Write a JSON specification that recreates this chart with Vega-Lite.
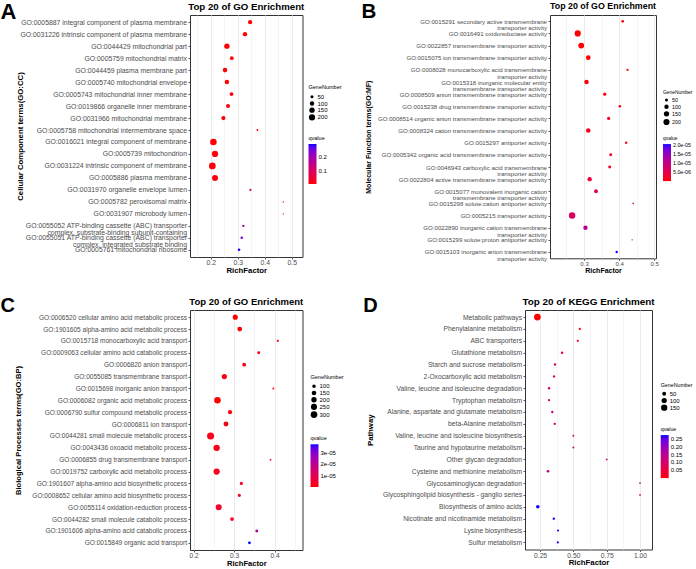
{
  "$schema": "https://vega.github.io/schema/vega-lite/v6.json",
  "padding": {"left": 0, "top": 0, "right": 0, "bottom": 0},
  "background": "white",
  "datasets": {
    "cc": [
      {"term": "GO:0005887 integral component of plasma membrane", "rich": 0.346, "genes": 95, "q": 0.008},
      {"term": "GO:0031226 intrinsic component of plasma membrane", "rich": 0.327, "genes": 100, "q": 0.008},
      {"term": "GO:0044429 mitochondrial part", "rich": 0.26, "genes": 150, "q": 0.008},
      {"term": "GO:0005759 mitochondrial matrix", "rich": 0.278, "genes": 75, "q": 0.009},
      {"term": "GO:0044459 plasma membrane part", "rich": 0.253, "genes": 110, "q": 0.009},
      {"term": "GO:0005740 mitochondrial envelope", "rich": 0.26, "genes": 105, "q": 0.009},
      {"term": "GO:0005743 mitochondrial inner membrane", "rich": 0.277, "genes": 80, "q": 0.01},
      {"term": "GO:0019866 organelle inner membrane", "rich": 0.264, "genes": 85, "q": 0.01},
      {"term": "GO:0031966 mitochondrial membrane", "rich": 0.247, "genes": 95, "q": 0.01},
      {"term": "GO:0005758 mitochondrial intermembrane space", "rich": 0.373, "genes": 20, "q": 0.02},
      {"term": "GO:0016021 integral component of membrane", "rich": 0.21, "genes": 230, "q": 0.01},
      {"term": "GO:0005739 mitochondrion", "rich": 0.216, "genes": 210, "q": 0.01},
      {"term": "GO:0031224 intrinsic component of membrane", "rich": 0.206, "genes": 240, "q": 0.012},
      {"term": "GO:0005886 plasma membrane", "rich": 0.216, "genes": 190, "q": 0.012},
      {"term": "GO:0031970 organelle envelope lumen", "rich": 0.347, "genes": 25, "q": 0.05},
      {"term": "GO:0005782 peroxisomal matrix", "rich": 0.469, "genes": 10, "q": 0.11},
      {"term": "GO:0031907 microbody lumen", "rich": 0.469, "genes": 10, "q": 0.11},
      {"term": "GO:0055052 ATP-binding cassette (ABC) transporter|complex, substrate-binding subunit-containing", "rich": 0.321, "genes": 30, "q": 0.2},
      {"term": "GO:0055051 ATP-binding cassette (ABC) transporter|complex, integrated substrate binding", "rich": 0.315, "genes": 35, "q": 0.23},
      {"term": "GO:0005761 mitochondrial ribosome", "rich": 0.305, "genes": 35, "q": 0.29}
    ],
    "mf": [
      {"term": "GO:0015291 secondary active transmembrane|transporter activity", "rich": 0.41, "genes": 40, "q": 2e-7},
      {"term": "GO:0016491 oxidoreductase activity", "rich": 0.282, "genes": 200, "q": 3e-7},
      {"term": "GO:0022857 transmembrane transporter activity", "rich": 0.292, "genes": 175, "q": 3e-7},
      {"term": "GO:0015075 ion transmembrane transporter activity", "rich": 0.312, "genes": 120, "q": 4e-7},
      {"term": "GO:0008028 monocarboxylic acid transmembrane|transporter activity", "rich": 0.424, "genes": 25, "q": 6e-7},
      {"term": "GO:0015318 inorganic molecular entity|transmembrane transporter activity", "rich": 0.307, "genes": 110, "q": 6e-7},
      {"term": "GO:0008509 anion transmembrane transporter activity", "rich": 0.359, "genes": 60, "q": 8e-7},
      {"term": "GO:0015238 drug transmembrane transporter activity", "rich": 0.402, "genes": 35, "q": 1e-6},
      {"term": "GO:0008514 organic anion transmembrane transporter activity", "rich": 0.37, "genes": 55, "q": 1.2e-6},
      {"term": "GO:0008324 cation transmembrane transporter activity", "rich": 0.312, "genes": 110, "q": 1.5e-6},
      {"term": "GO:0015297 antiporter activity", "rich": 0.42, "genes": 32, "q": 2e-6},
      {"term": "GO:0005342 organic acid transmembrane transporter activity", "rich": 0.376, "genes": 48, "q": 2.2e-6},
      {"term": "GO:0046943 carboxylic acid transmembrane|transporter activity", "rich": 0.373, "genes": 48, "q": 2.5e-6},
      {"term": "GO:0022804 active transmembrane transporter activity", "rich": 0.316, "genes": 100, "q": 3.5e-6},
      {"term": "GO:0015077 monovalent inorganic cation|transmembrane transporter activity", "rich": 0.334, "genes": 80, "q": 6e-6},
      {"term": "GO:0015298 solute:cation antiporter activity", "rich": 0.44, "genes": 15, "q": 7e-6},
      {"term": "GO:0005215 transporter activity", "rich": 0.266, "genes": 220, "q": 6.5e-6},
      {"term": "GO:0022890 inorganic cation transmembrane|transporter activity", "rich": 0.304, "genes": 100, "q": 1.2e-5},
      {"term": "GO:0015299 solute:proton antiporter activity", "rich": 0.437, "genes": 12, "q": 1.7e-5},
      {"term": "GO:0015103 inorganic anion transmembrane|transporter activity", "rich": 0.393, "genes": 30, "q": 2.03e-5}
    ],
    "bp": [
      {"term": "GO:0006520 cellular amino acid metabolic process", "rich": 0.303, "genes": 180, "q": 1e-7},
      {"term": "GO:1901605 alpha-amino acid metabolic process", "rich": 0.314, "genes": 160, "q": 1e-7},
      {"term": "GO:0015718 monocarboxylic acid transport", "rich": 0.408, "genes": 50, "q": 1e-6},
      {"term": "GO:0009063 cellular amino acid catabolic process", "rich": 0.361, "genes": 75, "q": 1e-6},
      {"term": "GO:0006820 anion transport", "rich": 0.325, "genes": 110, "q": 1e-6},
      {"term": "GO:0055085 transmembrane transport", "rich": 0.276, "genes": 190, "q": 1.5e-6},
      {"term": "GO:0015698 inorganic anion transport", "rich": 0.397, "genes": 45, "q": 1.5e-6},
      {"term": "GO:0006082 organic acid metabolic process", "rich": 0.259, "genes": 290, "q": 1e-7},
      {"term": "GO:0006790 sulfur compound metabolic process", "rich": 0.29, "genes": 130, "q": 1.5e-6},
      {"term": "GO:0006811 ion transport", "rich": 0.28, "genes": 170, "q": 2e-6},
      {"term": "GO:0044281 small molecule metabolic process", "rich": 0.242, "genes": 330, "q": 2e-6},
      {"term": "GO:0043436 oxoacid metabolic process", "rich": 0.257, "genes": 270, "q": 2e-6},
      {"term": "GO:0006855 drug transmembrane transport", "rich": 0.39, "genes": 40, "q": 3e-6},
      {"term": "GO:0019752 carboxylic acid metabolic process", "rich": 0.257, "genes": 260, "q": 2e-6},
      {"term": "GO:1901607 alpha-amino acid biosynthetic process", "rich": 0.318, "genes": 85, "q": 2.5e-6},
      {"term": "GO:0008652 cellular amino acid biosynthetic process", "rich": 0.313, "genes": 85, "q": 3e-6},
      {"term": "GO:0055114 oxidation-reduction process", "rich": 0.262, "genes": 250, "q": 4e-6},
      {"term": "GO:0044282 small molecule catabolic process", "rich": 0.295, "genes": 110, "q": 4e-6},
      {"term": "GO:1901606 alpha-amino acid catabolic process", "rich": 0.356, "genes": 70, "q": 2.2e-5},
      {"term": "GO:0015849 organic acid transport", "rich": 0.338, "genes": 70, "q": 3.75e-5}
    ],
    "kegg": [
      {"term": "Metabolic pathways", "rich": 0.23, "genes": 170, "q": 0.001},
      {"term": "Phenylalanine metabolism", "rich": 0.548, "genes": 11, "q": 0.02},
      {"term": "ABC transporters", "rich": 0.533, "genes": 10, "q": 0.025},
      {"term": "Glutathione metabolism", "rich": 0.415, "genes": 15, "q": 0.05},
      {"term": "Starch and sucrose metabolism", "rich": 0.3625, "genes": 13, "q": 0.1},
      {"term": "2-Oxocarboxylic acid metabolism", "rich": 0.355, "genes": 12, "q": 0.1},
      {"term": "Valine, leucine and isoleucine degradation", "rich": 0.3175, "genes": 12, "q": 0.11},
      {"term": "Tryptophan metabolism", "rich": 0.3175, "genes": 12, "q": 0.11},
      {"term": "Alanine, aspartate and glutamate metabolism", "rich": 0.342, "genes": 12, "q": 0.115},
      {"term": "beta-Alanine metabolism", "rich": 0.36, "genes": 12, "q": 0.115},
      {"term": "Valine, leucine and isoleucine biosynthesis", "rich": 0.5, "genes": 5, "q": 0.12},
      {"term": "Taurine and hypotaurine metabolism", "rich": 0.5, "genes": 5, "q": 0.12},
      {"term": "Other glycan degradation", "rich": 0.75, "genes": 3, "q": 0.13},
      {"term": "Cysteine and methionine metabolism", "rich": 0.31, "genes": 20, "q": 0.14},
      {"term": "Glycosaminoglycan degradation", "rich": 1.0, "genes": 2, "q": 0.14},
      {"term": "Glycosphingolipid biosynthesis - ganglio series", "rich": 1.0, "genes": 2, "q": 0.14},
      {"term": "Biosynthesis of amino acids", "rich": 0.233, "genes": 40, "q": 0.272},
      {"term": "Nicotinate and nicotinamide metabolism", "rich": 0.353, "genes": 12, "q": 0.272},
      {"term": "Lysine biosynthesis", "rich": 0.385, "genes": 8, "q": 0.272},
      {"term": "Sulfur metabolism", "rich": 0.383, "genes": 8, "q": 0.272}
    ]
  },
  "spacing": 21,
  "align": "none",
  "resolve": {"scale": {"color": "independent", "size": "independent"}, "legend": {"color": "independent", "size": "independent"}},
  "vconcat": [
    {
      "spacing": 18,
      "align": "none",
      "resolve": {"scale": {"color": "independent", "size": "independent"}, "legend": {"color": "independent", "size": "independent"}},
      "hconcat": [
        {
          "title": {"text": "A", "anchor": "start", "frame": "bounds", "fontSize": 22, "fontWeight": "bold", "offset": -22, "dx": -15, "color": "black"},
          "resolve": {"scale": {"color": "independent", "size": "independent"}, "legend": {"color": "independent", "size": "independent"}},
          "vconcat": [
            {
              "data": {"name": "cc"},
              "width": 112.5, "height": 242,
              "title": {"text": "Top 20 of GO Enrichment", "fontSize": 9.7, "fontWeight": "bold", "anchor": "middle", "offset": 3.3, "color": "black"},
              "mark": {"type": "circle", "opacity": 1},
              "encoding": {
                "x": {"field": "rich", "type": "quantitative", "title": "RichFactor",
                  "scale": {"domain": [0.1233, 0.54], "nice": false, "zero": false},
                  "axis": {"values": [0.15, 0.2, 0.25, 0.3, 0.35, 0.4, 0.45, 0.5], "labelFontSize": 6.87, "titleFontSize": 7.8,
                    "labelExpr": "abs(datum.value*10-round(datum.value*10))>0.01 ? '' : format(datum.value,'.1f')",
                    "tickOpacity": {"condition": {"test": "abs(datum.value*10-round(datum.value*10))>0.01", "value": 0}, "value": 1},
                    "gridWidth": {"condition": {"test": "abs(datum.value*10-round(datum.value*10))>0.01", "value": 0.5}, "value": 1}}},
                "y": {"field": "term", "type": "nominal", "sort": null, "title": "Cellular Component terms(GO:CC)",
                  "scale": {"type": "point", "padding": 0.6},
                  "axis": {"labelExpr": "split(datum.label, '|')", "labelFontSize": 6.87, "titleFontSize": 7.8, "labelLineHeight": 6.9, "minExtent": 164, "maxExtent": 164, "titlePadding": 2}},
                "size": {"field": "genes", "type": "quantitative", "title": "GeneNumber",
                  "scale": {"zero": false, "domain": [10, 240], "range": [2, 45]},
                  "legend": {"values": [50, 100, 150, 200], "orient": "none", "legendX": 118.5, "legendY": 70.3, "titleFontSize": 5.5, "labelFontSize": 6}},
                "color": {"field": "q", "type": "quantitative", "title": "qvalue",
                  "scale": {"domain": [0.007, 0.293], "range": ["#FF0000", "#0000FF"], "interpolate": "lab"},
                  "legend": {"values": [0.1, 0.2], "orient": "none", "legendX": 118.5, "legendY": 120.5, "gradientLength": 40, "titleFontSize": 5.5, "labelFontSize": 6, "labelExpr": "format(datum.value, '.1f')"}}
              }
            }
          ]
        },
        {
          "title": {"text": "B", "anchor": "start", "frame": "bounds", "fontSize": 20.5, "fontWeight": "bold", "offset": -20.5, "dx": -2, "color": "black"},
          "resolve": {"scale": {"color": "independent", "size": "independent"}, "legend": {"color": "independent", "size": "independent"}},
          "vconcat": [
            {
              "data": {"name": "mf"},
              "width": 106, "height": 243.3,
              "title": {"text": "Top 20 of GO Enrichment", "fontSize": 8.85, "fontWeight": "bold", "anchor": "middle", "offset": 4.15, "color": "black"},
              "mark": {"type": "circle", "opacity": 1},
              "encoding": {
                "x": {"field": "rich", "type": "quantitative", "title": "RichFactor",
                  "scale": {"domain": [0.203, 0.505], "nice": false, "zero": false},
                  "axis": {"values": [0.25, 0.3, 0.35, 0.4, 0.45, 0.5], "labelFontSize": 6.1, "titleFontSize": 7,
                    "labelExpr": "abs(datum.value*10-round(datum.value*10))>0.01 ? '' : format(datum.value,'.1f')",
                    "tickOpacity": {"condition": {"test": "abs(datum.value*10-round(datum.value*10))>0.01", "value": 0}, "value": 1},
                    "gridWidth": {"condition": {"test": "abs(datum.value*10-round(datum.value*10))>0.01", "value": 0.5}, "value": 1}}},
                "y": {"field": "term", "type": "nominal", "sort": null, "title": "Molecular Function terms(GO:MF)",
                  "scale": {"type": "point", "padding": 0.52},
                  "axis": {"labelExpr": "split(datum.label, '|')", "labelFontSize": 6.1, "titleFontSize": 7, "labelLineHeight": 6.3, "minExtent": 177, "maxExtent": 177, "titlePadding": 2}},
                "size": {"field": "genes", "type": "quantitative", "title": "GeneNumber",
                  "scale": {"zero": false, "domain": [12, 220], "range": [2, 42]},
                  "legend": {"values": [50, 100, 150, 200], "orient": "none", "legendX": 113, "legendY": 74.5, "titleFontSize": 4.9, "labelFontSize": 5.3}},
                "color": {"field": "q", "type": "quantitative", "title": "qvalue",
                  "scale": {"domain": [2e-7, 2.04e-5], "range": ["#FF0000", "#0000FF"], "interpolate": "lab"},
                  "legend": {"values": [5e-6, 1e-5, 1.5e-5, 2e-5], "orient": "none", "legendX": 113, "legendY": 121.2, "gradientLength": 37, "titleFontSize": 4.9, "labelFontSize": 5.3, "labelExpr": "replace(format(datum.value, '.1e'), 'e-', 'e-0')"}}
              }
            }
          ]
        }
      ]
    },
    {
      "spacing": 18,
      "align": "none",
      "resolve": {"scale": {"color": "independent", "size": "independent"}, "legend": {"color": "independent", "size": "independent"}},
      "hconcat": [
        {
          "title": {"text": "C", "anchor": "start", "frame": "bounds", "fontSize": 20, "fontWeight": "bold", "offset": -20, "dx": -13, "color": "black"},
          "resolve": {"scale": {"color": "independent", "size": "independent"}, "legend": {"color": "independent", "size": "independent"}},
          "vconcat": [
            {
              "data": {"name": "bp"},
              "width": 112.5, "height": 240,
              "title": {"text": "Top 20 of GO Enrichment", "fontSize": 9.5, "fontWeight": "bold", "anchor": "middle", "offset": 4, "color": "black"},
              "mark": {"type": "circle", "opacity": 1},
              "encoding": {
                "x": {"field": "rich", "type": "quantitative", "title": "RichFactor",
                  "scale": {"domain": [0.1912, 0.469], "nice": false, "zero": false},
                  "axis": {"values": [0.2, 0.25, 0.3, 0.35, 0.4, 0.45], "labelFontSize": 6.55, "titleFontSize": 7.6,
                    "labelExpr": "abs(datum.value*10-round(datum.value*10))>0.01 ? '' : format(datum.value,'.1f')",
                    "tickOpacity": {"condition": {"test": "abs(datum.value*10-round(datum.value*10))>0.01", "value": 0}, "value": 1},
                    "gridWidth": {"condition": {"test": "abs(datum.value*10-round(datum.value*10))>0.01", "value": 0.5}, "value": 1}}},
                "y": {"field": "term", "type": "nominal", "sort": null, "title": "Biological Processes terms(GO:BP)",
                  "scale": {"type": "point", "padding": 0.6},
                  "axis": {"labelExpr": "split(datum.label, '|')", "labelFontSize": 6.55, "titleFontSize": 7.6, "minExtent": 165.9, "maxExtent": 165.9, "titlePadding": 2}},
                "size": {"field": "genes", "type": "quantitative", "title": "GeneNumber",
                  "scale": {"zero": false, "domain": [40, 330], "range": [3, 50]},
                  "legend": {"values": [100, 150, 200, 250, 300], "orient": "none", "legendX": 120.5, "legendY": 64.8, "titleFontSize": 5.5, "labelFontSize": 6}},
                "color": {"field": "q", "type": "quantitative", "title": "qvalue",
                  "scale": {"domain": [1e-7, 3.75e-5], "range": ["#FF0000", "#0000FF"], "interpolate": "lab"},
                  "legend": {"values": [1e-5, 2e-5, 3e-5], "orient": "none", "legendX": 120.5, "legendY": 125.8, "gradientLength": 42.7, "titleFontSize": 5.5, "labelFontSize": 6, "labelExpr": "replace(format(datum.value, '.0e'), 'e-', 'e-0')"}}
              }
            }
          ]
        },
        {
          "title": {"text": "D", "anchor": "start", "frame": "bounds", "fontSize": 20, "fontWeight": "bold", "offset": -20, "dx": -2.5, "color": "black"},
          "resolve": {"scale": {"color": "independent", "size": "independent"}, "legend": {"color": "independent", "size": "independent"}},
          "vconcat": [
            {
              "data": {"name": "kegg"},
              "width": 127, "height": 239.5,
              "title": {"text": "Top 20 of KEGG Enrichment", "fontSize": 9.9, "fontWeight": "bold", "anchor": "middle", "offset": 3.6, "color": "black"},
              "mark": {"type": "circle", "opacity": 1},
              "encoding": {
                "x": {"field": "rich", "type": "quantitative", "title": "RichFactor",
                  "scale": {"domain": [0.137, 1.09], "nice": false, "zero": false},
                  "axis": {"values": [0.25, 0.375, 0.5, 0.625, 0.75, 0.875, 1.0], "labelFontSize": 6.73, "titleFontSize": 7.8,
                    "labelExpr": "abs(datum.value*4-round(datum.value*4))>0.01 ? '' : format(datum.value,'.2f')",
                    "tickOpacity": {"condition": {"test": "abs(datum.value*4-round(datum.value*4))>0.01", "value": 0}, "value": 1},
                    "gridWidth": {"condition": {"test": "abs(datum.value*4-round(datum.value*4))>0.01", "value": 0.5}, "value": 1}}},
                "y": {"field": "term", "type": "nominal", "sort": null, "title": "Pathway",
                  "scale": {"type": "point", "padding": 0.6},
                  "axis": {"labelExpr": "split(datum.label, '|')", "labelFontSize": 6.73, "titleFontSize": 7.8, "minExtent": 148.7, "maxExtent": 148.7, "titlePadding": 2}},
                "size": {"field": "genes", "type": "quantitative", "title": "GeneNumber",
                  "scale": {"zero": false, "domain": [2, 170], "range": [3, 45]},
                  "legend": {"values": [50, 100, 150], "orient": "none", "legendX": 135.7, "legendY": 72.5, "titleFontSize": 5.3, "labelFontSize": 6}},
                "color": {"field": "q", "type": "quantitative", "title": "qvalue",
                  "scale": {"domain": [0.001, 0.273], "range": ["#FF0000", "#0000FF"], "interpolate": "lab"},
                  "legend": {"values": [0.05, 0.1, 0.15, 0.2, 0.25], "orient": "none", "legendX": 135.7, "legendY": 116.8, "gradientLength": 43, "titleFontSize": 5.3, "labelFontSize": 6, "labelExpr": "format(datum.value, '.2f')"}}
              }
            }
          ]
        }
      ]
    }
  ],
  "config": {
    "font": "Liberation Sans",
    "view": {"stroke": "#333333", "strokeWidth": 1},
    "axis": {"labelFont": "Liberation Sans", "labelColor": "#4D4D4D", "tickColor": "#333333", "tickSize": 2, "tickWidth": 0.8, "domain": false, "gridColor": "#EBEBEB", "gridWidth": 1, "titleFont": "Liberation Sans", "titleFontWeight": "bold", "titleColor": "black", "labelPadding": 1.5, "labelLimit": 300, "titlePadding": 2},
    "axisX": {"labelPadding": 0.5, "titlePadding": 0},
    "legend": {"titleFont": "Liberation Sans", "titleFontWeight": "normal", "titleColor": "black", "labelFont": "Liberation Sans", "labelColor": "black", "symbolType": "circle", "symbolFillColor": "black", "symbolStrokeWidth": 0, "rowPadding": 0.7, "labelOffset": 2, "titlePadding": 3, "gradientThickness": 8, "gradientStrokeWidth": 0, "padding": 0},
    "title": {"font": "Liberation Sans", "color": "black"}
  }
}
